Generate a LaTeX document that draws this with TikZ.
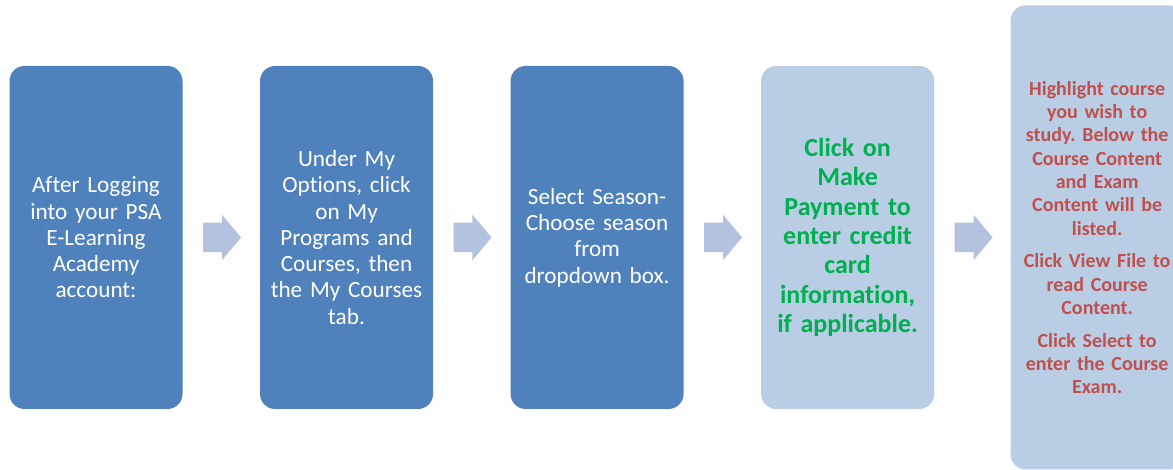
\documentclass[tikz,border=0pt]{standalone}
\usepackage{fontspec}
\setmainfont{Carlito}[Ligatures=NoCommon]
\usetikzlibrary{%
    positioning,%
    shapes.arrows,calc
}
\definecolor{stepblue}{HTML}{4F81BD}
\definecolor{steplight}{HTML}{B9CDE5}
\definecolor{arrowblue}{HTML}{B3C3DF}
\definecolor{paygreen}{HTML}{00B050}
\definecolor{examred}{HTML}{C0504D}
\frenchspacing

\begin{document}
\begin{tikzpicture}[ node distance=57.75pt,
    stepbox/.style={
        rounded corners=11.25pt,inner sep=0pt,
        minimum width=129.75pt,minimum height=257.25pt,
        text width=126pt,align=center},
    darkstep/.style={stepbox,fill=stepblue,text=white,
        font={\fontsize{17.4pt}{19.7pt}\selectfont}},
    lightstep/.style={stepbox,fill=steplight},
    flow/.style={
        single arrow,fill=arrowblue,draw=none,anchor=tail,
        inner xsep=0pt,inner ysep=10.875pt,
        minimum height=28.5pt,minimum width=33.75pt,
        single arrow head extend=6pt,single arrow tip angle=100}]
\useasboundingbox (0,0) rectangle (879.75pt,-351.75pt);
\clip (0,0) rectangle (879.75pt,-351.75pt);
\node[darkstep] (step1) at (72pt,-178.1pt)
    {After Logging\\ into your PSA\\ E-Learning\\ Academy\\ account:};
\node[darkstep,right=of step1] (step2)
    {Under My\\ Options, click\\ on My\\ Programs and\\ Courses, then\\ the My Courses\\ tab.};
\node[darkstep,right=of step2] (step3)
    {Select Season-\\ Choose season\\ from\\ dropdown box.};
\node[lightstep,right=of step3,text=paygreen,
    font={\fontsize{19.5pt}{22pt}\selectfont\bfseries}] (step4)
    {Click on\\ Make\\ Payment to\\ enter credit\\ card\\ information,\\ if applicable.};
\node[lightstep,right=57pt of step4,minimum height=348pt,text=examred,
    font={\fontsize{15pt}{17.5pt}\selectfont\bfseries}] (step5)
    {Highlight course\\ you wish to\\ study. Below the\\ Course Content\\ and Exam\\ Content will be\\ listed.\\[7pt]
     Click View File to\\ read Course\\ Content.\\[7pt]
     Click Select to\\ enter the Course\\ Exam.};
% block arrows between the steps
\foreach \a/\b [count=\i] in {step1/step2,step2/step3,step3/step4,step4/step5}
    \node[flow] (arr\i) at ([xshift=15pt]\a.east) {};

\end{tikzpicture}
\end{document}
